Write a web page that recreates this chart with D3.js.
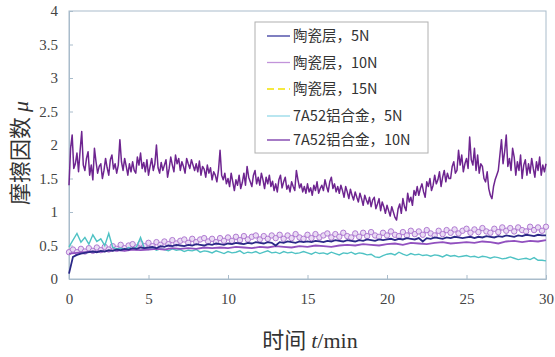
<!DOCTYPE html>
<html><head><meta charset="utf-8">
<script src="https://cdn.jsdelivr.net/npm/d3@7"></script>
<style>
html,body{margin:0;padding:0;background:#fff;}
svg{display:block;}
</style></head>
<body>
<svg id="chart" width="555" height="357"></svg>
<script>
// ---- data ----
const xTicks = [0, 5, 10, 15, 20, 25, 30];
const yTicks = [0, 0.5, 1, 1.5, 2, 2.5, 3, 3.5, 4];
const yTickLabels = ["0", "0.5", "1", "1.5", "2", "2.5", "3", "3.5", "4"];
const seriesNames = ["陶瓷层，5N", "陶瓷层，10N", "陶瓷层，15N", "7A52铝合金，5N", "7A52铝合金，10N"];

// 7A52 alloy, 10N (step 0.1 min)
const al10Step = 0.1;
const al10 = [
 1.40,1.95,2.15,1.65,1.72,1.88,1.60,1.92,2.20,1.70,
 1.62,1.80,1.90,1.55,1.70,1.48,1.95,1.75,1.58,1.68,
 1.72,1.50,1.62,1.80,1.66,1.55,1.78,1.85,1.64,1.72,
 1.58,1.70,2.08,1.75,1.62,1.80,1.68,1.55,1.72,1.60,
 1.75,1.62,1.58,1.82,1.70,1.88,1.65,1.74,1.60,1.78,
 1.55,1.68,1.80,1.62,1.72,2.00,1.66,1.58,1.74,1.62,
 1.70,1.78,1.52,1.65,1.82,1.70,1.60,1.85,1.72,1.80,
 1.62,1.75,1.68,1.58,1.80,1.72,1.65,1.78,1.70,1.62,
 1.72,1.60,1.76,1.55,1.68,1.64,1.52,1.70,1.58,1.66,
 1.48,1.60,1.55,1.45,1.62,1.92,1.55,1.48,1.58,1.42,
 1.50,1.38,1.58,1.45,1.32,1.48,1.40,1.55,1.35,1.44,
 1.58,1.40,1.68,1.52,1.45,1.38,1.55,1.62,1.42,1.52,
 1.40,1.58,1.48,1.35,1.52,1.42,1.55,1.38,1.46,1.32,
 1.42,1.30,1.48,1.55,1.36,1.45,1.52,1.34,1.40,1.30,
 1.45,1.38,1.32,1.62,1.48,1.36,1.42,1.30,1.38,1.28,
 1.42,1.30,1.36,1.25,1.40,1.32,1.45,1.28,1.35,1.40,
 1.32,1.48,1.38,1.30,1.45,1.52,1.35,1.42,1.30,1.38,
 1.28,1.40,1.32,1.22,1.38,1.30,1.20,1.34,1.25,1.18,
 1.30,1.22,1.15,1.28,1.20,1.10,1.25,1.18,1.12,1.22,
 1.08,1.18,1.22,1.05,1.12,1.20,1.02,1.15,1.08,0.98,
 1.10,1.02,0.94,1.08,1.00,0.92,0.88,1.05,1.12,0.98,
 1.20,1.08,1.02,1.28,1.15,1.22,1.10,1.32,1.25,1.38,
 1.25,1.35,1.42,1.30,1.22,1.45,1.38,1.50,1.32,1.40,
 1.55,1.42,1.48,1.60,1.38,1.52,1.62,1.45,1.58,1.50,
 1.50,1.68,1.75,1.58,1.62,1.92,1.70,1.85,1.60,1.72,
 1.80,1.65,2.12,1.78,1.70,1.95,1.62,1.85,1.58,1.72,
 1.68,1.50,1.45,1.60,1.35,1.25,1.20,1.38,1.48,1.55,
 1.62,1.85,2.08,1.72,1.90,2.15,1.68,1.80,1.62,1.95,
 1.82,1.55,1.75,1.62,1.85,1.50,1.70,1.78,1.55,1.72,
 1.58,1.80,1.65,1.52,1.75,1.62,1.82,1.55,1.70,1.60,
 1.72
];

// 7A52 alloy, 5N (step 0.25 min)
const al5Step = 0.25;
const al5 = [
 0.48,0.58,0.68,0.55,0.62,0.52,0.66,0.56,0.60,0.50,0.68,0.47,0.45,
 0.46,0.44,0.47,0.45,0.48,0.62,0.45,
 0.44,0.46,0.43,0.45,0.44,0.42,0.45,0.43,0.44,0.41,0.43,0.42,0.44,0.40,0.42,0.41,0.39,0.42,0.40,0.38,
 0.41,0.39,0.40,0.42,0.38,0.40,0.39,0.41,0.38,0.40,0.42,0.39,0.40,0.38,0.41,0.39,0.40,0.38,0.39,0.41,
 0.39,0.37,0.40,0.38,0.39,0.37,0.40,0.38,0.36,0.39,0.38,0.40,0.37,0.39,0.38,0.36,0.37,0.33,0.32,0.35,
 0.37,0.38,0.36,0.40,0.37,0.35,0.38,0.36,0.37,0.35,0.36,0.34,0.36,0.35,0.33,0.36,0.34,0.35,0.33,0.34,
 0.35,0.33,0.34,0.32,0.34,0.33,0.31,0.33,0.32,0.30,0.31,0.33,0.31,0.29,0.30,0.31,0.29,0.32,0.28,0.28,0.27
];

// ceramic, 5N (step 0.25 min)
const c5Step = 0.25;
const c5 = [
 0.08,0.33,0.36,0.38,0.39,0.40,0.41,0.40,
 0.42,0.41,0.43,0.42,0.44,0.43,0.45,0.44,0.46,0.45,0.47,0.46,
 0.47,0.48,0.46,0.49,0.48,0.50,0.49,0.51,0.50,0.49,0.51,0.50,0.52,0.51,0.50,0.52,0.51,0.53,0.52,0.51,
 0.53,0.52,0.54,0.53,0.52,0.54,0.53,0.55,0.54,0.53,0.55,0.54,0.50,0.55,0.54,0.56,0.55,0.54,0.56,0.55,
 0.56,0.55,0.57,0.56,0.55,0.57,0.56,0.58,0.57,0.56,0.58,0.57,0.56,0.58,0.57,0.59,0.58,0.57,0.59,0.58,
 0.59,0.60,0.58,0.60,0.59,0.61,0.60,0.59,0.61,0.56,0.61,0.60,0.62,0.61,0.60,0.62,0.61,0.63,0.62,0.61,
 0.62,0.63,0.61,0.63,0.62,0.64,0.63,0.62,0.64,0.63,0.65,0.64,0.63,0.65,0.64,0.66,0.65,0.64,0.66,0.65,0.65
];

// ceramic, 10N (step 0.25 min)
const c10Step = 0.25;
const c10 = [
 0.40,0.44,0.40,0.45,0.41,0.46,0.42,0.47,0.43,0.48,0.44,0.49,0.45,0.51,0.46,0.50,0.52,0.47,0.53,0.49,
 0.54,0.49,0.55,0.51,0.56,0.52,0.58,0.53,0.57,0.59,0.54,0.60,0.55,0.59,0.61,0.56,0.60,0.55,0.61,0.57,
 0.62,0.57,0.63,0.58,0.64,0.59,0.63,0.65,0.59,0.64,0.60,0.65,0.61,0.66,0.60,0.65,0.61,0.67,0.62,0.60,
 0.66,0.61,0.67,0.62,0.65,0.68,0.62,0.67,0.63,0.69,0.64,0.62,0.68,0.63,0.69,0.64,0.70,0.65,0.63,0.69,
 0.65,0.71,0.66,0.64,0.70,0.65,0.72,0.67,0.71,0.66,0.73,0.68,0.65,0.72,0.67,0.73,0.69,0.74,0.68,0.72,
 0.75,0.69,0.74,0.70,0.76,0.71,0.69,0.75,0.70,0.77,0.72,0.76,0.71,0.77,0.73,0.71,0.78,0.73,0.77,0.72,0.78
];

// ceramic, 15N (step 0.5 min)
const c15Step = 0.5;
const c15 = [
 0.38,0.39,0.40,0.41,0.41,0.42,0.43,0.42,0.44,0.43,
 0.44,0.45,0.44,0.46,0.45,0.46,0.45,0.47,0.46,0.47,
 0.46,0.48,0.47,0.46,0.48,0.47,0.49,0.48,0.47,0.49,
 0.48,0.50,0.49,0.48,0.50,0.51,0.50,0.52,0.51,0.50,
 0.52,0.53,0.51,0.54,0.53,0.52,0.54,0.55,0.53,0.54,
 0.55,0.54,0.56,0.55,0.53,0.56,0.57,0.55,0.57,0.56,0.58
];

// ---- drawing ----
const svg = d3.select("#chart");
const pLeft = 69, pRight = 546, pTop = 11, pBottom = 279;
const x = d3.scaleLinear().domain([0, 30]).range([pLeft, pRight]);
const y = d3.scaleLinear().domain([0, 4]).range([pBottom, pTop]);
const frameColor = "#a9bccb";
const serif = "'Liberation Serif','Times New Roman',serif";
const cjk = "'Noto Sans CJK SC','Liberation Serif',serif";

const toPts = (arr, step) => arr.map((v, i) => [i * step, v]);
const line = d3.line().x(d => x(d[0])).y(d => y(d[1]));

// frame
svg.append("rect").attr("x", pLeft).attr("y", pTop).attr("width", pRight - pLeft).attr("height", pBottom - pTop)
  .attr("fill", "none").attr("stroke", frameColor).attr("stroke-width", 1);

// axes
const xAxis = d3.axisBottom(x).tickValues(xTicks).tickSize(-4).tickPadding(14).tickFormat(d3.format("d"));
const gx = svg.append("g").attr("transform", `translate(0,${pBottom})`).call(xAxis);
const yAxis = d3.axisLeft(y).tickValues(yTicks).tickSize(-4).tickPadding(11).tickFormat((d, i) => yTickLabels[i]);
const gy = svg.append("g").attr("transform", `translate(${pLeft},0)`).call(yAxis);
[gx, gy].forEach(g => {
  g.select(".domain").attr("stroke", frameColor);
  g.selectAll(".tick line").attr("stroke", frameColor);
  g.selectAll(".tick text").attr("fill", "#444").style("font-family", serif).style("font-size", "15px");
});

// series
const plot = svg.append("g");
const c10Pts = toPts(c10, c10Step);
plot.append("path").datum(c10Pts).attr("d", line).attr("fill", "none")
  .attr("stroke", "#bf94dc").attr("stroke-width", 3);
plot.selectAll("circle.c10").data(c10Pts).join("circle").attr("class", "c10")
  .attr("cx", d => x(d[0])).attr("cy", d => y(d[1])).attr("r", 2.7)
  .attr("fill", "#eadcf4").attr("stroke", "#b07ad2").attr("stroke-width", 1);

plot.append("path").datum(toPts(al10, al10Step)).attr("d", line).attr("fill", "none")
  .attr("stroke", "#6e2590").attr("stroke-width", 1.5).attr("stroke-linejoin", "round");
plot.append("path").datum(toPts(al5, al5Step)).attr("d", line).attr("fill", "none")
  .attr("stroke", "#4fc2c4").attr("stroke-width", 1.4);
plot.append("path").datum(toPts(c15, c15Step)).attr("d", line).attr("fill", "none")
  .attr("stroke", "#9150bf").attr("stroke-width", 1.8);
plot.append("path").datum(toPts(c5, c5Step)).attr("d", line).attr("fill", "none")
  .attr("stroke", "#2b2887").attr("stroke-width", 1.8);

// legend
const legColors = ["#3a3a9e", "#c294da", "#f2e200", "#93d9e8", "#7634a8"];
const legDash = [null, null, "7,4", null, null];
const legY = [36, 62.5, 89, 116, 140];
const lg = svg.append("g");
lg.append("rect").attr("x", 255).attr("y", 22).attr("width", 173).attr("height", 131)
  .attr("fill", "#fff").attr("stroke", "#b0b0b0").attr("stroke-width", 1);
seriesNames.forEach((name, i) => {
  lg.append("line").attr("x1", 267).attr("x2", 290).attr("y1", legY[i]).attr("y2", legY[i])
    .attr("stroke", legColors[i]).attr("stroke-width", 1.3).attr("stroke-dasharray", legDash[i]);
  lg.append("text").attr("x", 293).attr("y", legY[i]).attr("dy", "0.36em")
    .style("font-family", cjk).style("font-size", "14.5px").attr("fill", "#333")
    .text(name);
});

// axis titles
const xt = svg.append("text").attr("x", 310).attr("y", 348).attr("text-anchor", "middle")
  .attr("fill", "#333").style("font-size", "22px");
xt.append("tspan").style("font-family", cjk).text("时间 ");
xt.append("tspan").style("font-family", serif).style("font-style", "italic").text(" t");
xt.append("tspan").style("font-family", serif).text("/min");

const yt = svg.append("text").attr("transform", "translate(28,153) rotate(-90)").attr("text-anchor", "middle")
  .attr("fill", "#333").style("font-size", "22px");
yt.append("tspan").style("font-family", cjk).text("摩擦因数 ");
yt.append("tspan").style("font-family", serif).style("font-style", "italic").text("μ");
</script>
</body></html>
